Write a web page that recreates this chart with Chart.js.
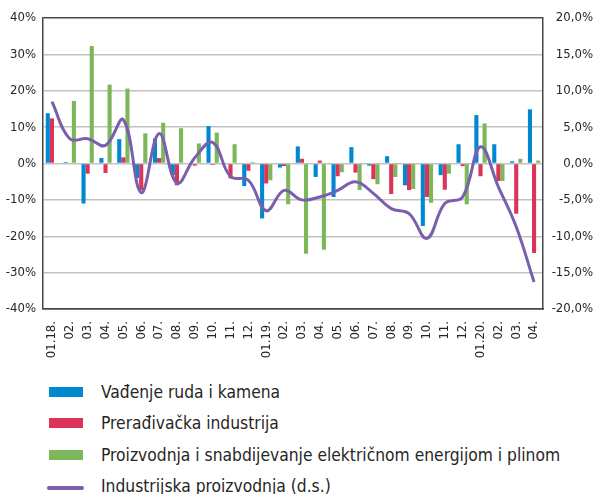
<!DOCTYPE html>
<html>
<head>
<meta charset="utf-8">
<script src="https://cdn.jsdelivr.net/npm/chart.js@4"></script>
<style>
    body { margin: 0; background: #fff; }
    #wrap { position: relative; width: 593px; height: 494px; overflow: hidden; }
    #chart { position: absolute; left: 0; top: 0; }
    #legend { position: absolute; left: 0; top: 0; font-family: 'DejaVu Sans Condensed', 'DejaVu Sans', sans-serif; font-size: 17.3px; color: #262626; }
    .item { position: absolute; left: 47px; height: 20px; white-space: nowrap; }
    .swatch { position: absolute; left: 2px; top: 5px; width: 34px; height: 10px; }
    .swatch.line { left: 0; top: 10px; width: 37px; height: 4px; border-radius: 2px; }
    .label { position: absolute; left: 54px; top: 0; line-height: 20px; }
</style>
</head>
<body>
<div id="wrap">
    <canvas id="chart" width="593" height="378"></canvas>
    <div id="legend"></div>
</div>
<script>
// Months Jan 2018 - Apr 2020
const categories = ['01.18.', '02.', '03.', '04.', '05.', '06.', '07.', '08.', '09.', '10.', '11.', '12.',
    '01.19.', '02.', '03.', '04.', '05.', '06.', '07.', '08.', '09.', '10.', '11.', '12.',
    '01.20.', '02.', '03.', '04.'];

// left axis, %
const mining = [13.8, 0.4, -11, 1.5, 6.7, -4, 6.9, -3.2, 0, 10.3, 0, -6.2,
    -15.1, -1.1, 4.7, -3.7, -9.2, 4.5, -0.6, 2, -6, -17.2, -3.2, 5.3,
    13.3, 5.3, 0.6, 14.9];
const manufacturing = [12.4, 0, -2.8, -2.6, 1.7, -7.3, 1.5, -6, -0.6, -0.4, -4.1, -2,
    -5.5, -0.7, 1.3, 0.8, -3.5, -2.5, -4.3, -8.4, -7.3, -9.2, -7.2, -0.7,
    -3.5, -4.8, -13.8, -24.6];
const energy = [0, 17.2, 32.3, 21.7, 20.6, 8.3, 11.2, 9.7, 5.5, 8.5, 5.3, 0.4,
    -4.6, -11.2, -24.8, -23.7, -2.4, -7.3, -5.7, -3.7, -7, -10.8, -2.8, -11.2,
    11, -4.8, 1.3, 0.8];

// right axis (d.s.), %
const industry = [8.5, 3.4, 3.4, 2.5, 6, -4, 4.1, -2.7, 0.8, 2.9, -1.8, -2.3,
    -6.5, -3.7, -5, -4.6, -3.7, -2.5, -4.1, -6.2, -6.9, -10.3, -5.5, -4.6,
    2.3, -3.2, -8.7, -16.3];

const leftTicks = [-40, -30, -20, -10, 0, 10, 20, 30, 40];
const rightTicks = [-20, -15, -10, -5, 0, 5, 10, 15, 20];

const seriesNames = ['Vađenje ruda i kamena', 'Prerađivačka industrija',
    'Proizvodnja i snabdijevanje električnom energijom i plinom', 'Industrijska proizvodnja (d.s.)'];
const seriesColors = ['#0089D1', '#DB3458', '#7DB75C', '#7A5FAE'];

const frameColor = '#474747';
const gridColor = '#C2C2C2';
const tickFont = { family: "'DejaVu Sans Condensed', 'DejaVu Sans', sans-serif", size: 13 };
const catFont = { family: "'Liberation Sans Narrow', 'DejaVu Sans Condensed', sans-serif", size: 13 };

function barSet(i, data) {
    return {
        type: 'bar',
        label: seriesNames[i],
        data: data,
        backgroundColor: seriesColors[i],
        borderWidth: 0,
        barPercentage: 1,
        categoryPercentage: 0.69,
        yAxisID: 'y',
        order: 1
    };
}

new Chart(document.getElementById('chart'), {
    type: 'bar',
    data: {
        labels: categories,
        datasets: [
            barSet(0, mining),
            barSet(1, manufacturing),
            barSet(2, energy),
            {
                type: 'line',
                label: seriesNames[3],
                data: industry,
                borderColor: seriesColors[3],
                borderWidth: 3,
                pointRadius: 0,
                tension: 0.4,
                fill: false,
                yAxisID: 'y1',
                order: 0
            }
        ]
    },
    options: {
        responsive: false,
        animation: false,
        layout: { padding: { top: 18, bottom: 0, left: 0, right: 0 } },
        plugins: {
            legend: { display: false },
            tooltip: { enabled: false }
        },
        scales: {
            x: {
                grid: { display: false },
                border: { color: frameColor, width: 1.5 },
                ticks: {
                    color: '#262626',
                    font: catFont,
                    minRotation: 90,
                    maxRotation: 90,
                    autoSkip: false,
                    padding: 4
                },
                afterFit: (s) => { s.height = 69; }
            },
            y: {
                position: 'left',
                min: leftTicks[0],
                max: leftTicks[leftTicks.length - 1],
                afterBuildTicks: (s) => { s.ticks = leftTicks.map(v => ({ value: v })); },
                grid: {
                    drawTicks: false,
                    lineWidth: 1.5,
                    color: (c) => (c.tick && Math.abs(c.tick.value) === 40) ? frameColor : gridColor
                },
                border: { color: frameColor, width: 1.5 },
                ticks: {
                    color: '#262626',
                    font: tickFont,
                    padding: 7,
                    callback: (v) => v + '%'
                },
                afterFit: (s) => { s.width = 43; }
            },
            y1: {
                position: 'right',
                min: rightTicks[0],
                max: rightTicks[rightTicks.length - 1],
                afterBuildTicks: (s) => { s.ticks = rightTicks.map(v => ({ value: v })); },
                grid: { drawOnChartArea: false, drawTicks: false },
                border: { color: frameColor, width: 1.5 },
                ticks: {
                    color: '#262626',
                    font: tickFont,
                    padding: 5,
                    crossAlign: 'far',
                    callback: (v) => v.toFixed(1).replace('.', ',') + '%'
                },
                afterFit: (s) => { s.width = 50; }
            }
        }
    }
});

// legend below the chart
const legendTops = [382, 413, 445, 476];
const legend = document.getElementById('legend');
seriesNames.forEach((name, i) => {
    const item = document.createElement('div');
    item.className = 'item';
    item.style.top = legendTops[i] + 'px';
    const sw = document.createElement('div');
    sw.className = 'swatch' + (i === 3 ? ' line' : '');
    sw.style.background = seriesColors[i];
    const lb = document.createElement('div');
    lb.className = 'label';
    lb.textContent = name;
    item.appendChild(sw);
    item.appendChild(lb);
    legend.appendChild(item);
});
</script>
</body>
</html>
